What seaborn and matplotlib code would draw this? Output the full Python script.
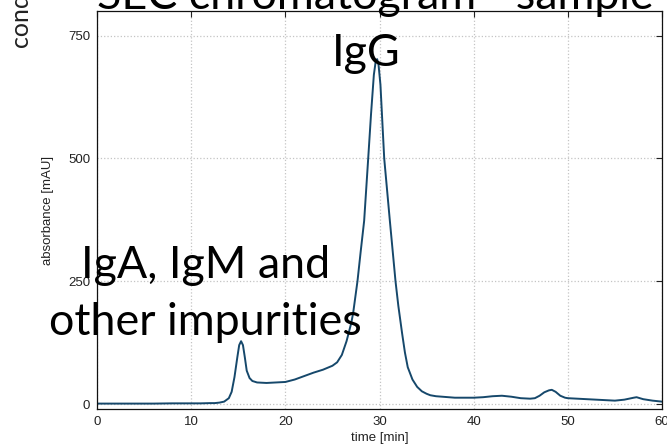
import matplotlib
matplotlib.use("Agg")
import matplotlib.pyplot as plt
import pandas as pd
import seaborn as sns

# ---- data ----
time_min = [0, 2, 4, 6, 8, 10, 11, 12, 12.5, 13, 13.5, 14, 14.3, 14.6, 14.9, 15.1, 15.3,
            15.5, 15.7, 15.9, 16.2, 16.5, 17, 18, 19, 20, 21, 22, 23, 24, 25, 25.5, 26,
            26.5, 27, 27.2, 27.66, 28, 28.37, 28.8, 29.1, 29.4, 29.6, 29.75, 29.9, 30.1,
            30.3, 30.5, 31.1, 31.7, 32.0, 32.4, 32.7, 33.0, 33.5, 34.0, 34.5, 35.0, 35.4,
            36, 37, 38, 39, 40, 41, 42, 43, 44, 45, 46, 46.5, 47, 47.5, 48, 48.3, 48.7,
            49.2, 49.7, 50, 51, 52, 53, 54, 55, 56, 57, 57.3, 58, 59, 60]
absorbance = [1, 1, 1, 1, 1.5, 1.5, 1.5, 2, 2, 3, 5, 12, 25, 55, 95, 120, 128,
              120, 95, 68, 53, 47, 44, 43, 44, 45, 50, 57, 64, 70, 78, 85, 100,
              128, 165, 185, 250, 310, 373, 500, 590, 670, 698, 702, 690, 650,
              575, 500, 373, 250, 200, 144, 105, 75, 50, 35, 26, 21, 18,
              16, 14.5, 13, 13, 13, 14, 16, 17, 15, 12, 11, 12, 17, 24, 28, 29, 25,
              17, 13, 12, 11, 10, 9, 8, 7, 9, 13, 14, 10, 7, 5]
x_ticks = [0, 10, 20, 30, 40, 50, 60]
y_ticks = [0, 250, 500, 750]
x_label = "time [min]"
y_label = "absorbance [mAU]"
title_text = "SEC chromatogram - sample"
side_text = "conductivity [mS/cm]"
label_igg = "IgG"
label_other_1 = "IgA, IgM and"
label_other_2 = "other impurities"

sns.set_theme(style="white")
plt.rcParams['font.family'] = ['Liberation Sans', 'DejaVu Sans']

W, H = 667, 446
fig = plt.figure(figsize=(W / 100, H / 100), dpi=100)
ax = fig.add_axes([97 / W, 1 - 409 / H, 565 / W, 398 / H])

df = pd.DataFrame({"time": time_min, "absorbance": absorbance})
sns.lineplot(data=df, x="time", y="absorbance", ax=ax, color="#16486b",
             linewidth=1.4, estimator=None, sort=False)

ax.set_xlim(0, 60)
ax.set_ylim(-10, 800)
ax.set_xticks(x_ticks)
ax.set_yticks(y_ticks)
ax.grid(True, linestyle=':', color='#c4c4c4', linewidth=0.9)
ax.tick_params(direction='in', length=4, width=0.8, top=True, right=True,
               labelsize=9.5, labelcolor='#222222', color='#222222', pad=5)
for s in ax.spines.values():
    s.set_visible(True)
    s.set_color('#111111')
    s.set_linewidth(0.9)
ax.set_xlabel(x_label, fontsize=9.5, color='#222222', labelpad=3)
ax.set_ylabel(y_label, fontsize=9.5, color='#222222', labelpad=10)

big = ['Lato', 'DejaVu Sans']
fs = 32.3

def px(x, y):
    return x / W, 1 - y / H

fig.text(*px(97, 9), title_text, fontsize=fs, family=big, ha='left', va='baseline', color='black')
fig.text(*px(29, 48), side_text, fontsize=18, family=big, rotation=90, rotation_mode='anchor',
         ha='left', va='baseline', color='#222222')
fig.text(*px(366, 66), label_igg, fontsize=fs, family=big, ha='center', va='baseline', color='black')
fig.text(*px(206, 278), label_other_1, fontsize=fs, family=big, ha='center', va='baseline', color='black')
fig.text(*px(205, 335), label_other_2, fontsize=fs, family=big, ha='center', va='baseline', color='black')

fig.savefig("out.png", dpi=100)
